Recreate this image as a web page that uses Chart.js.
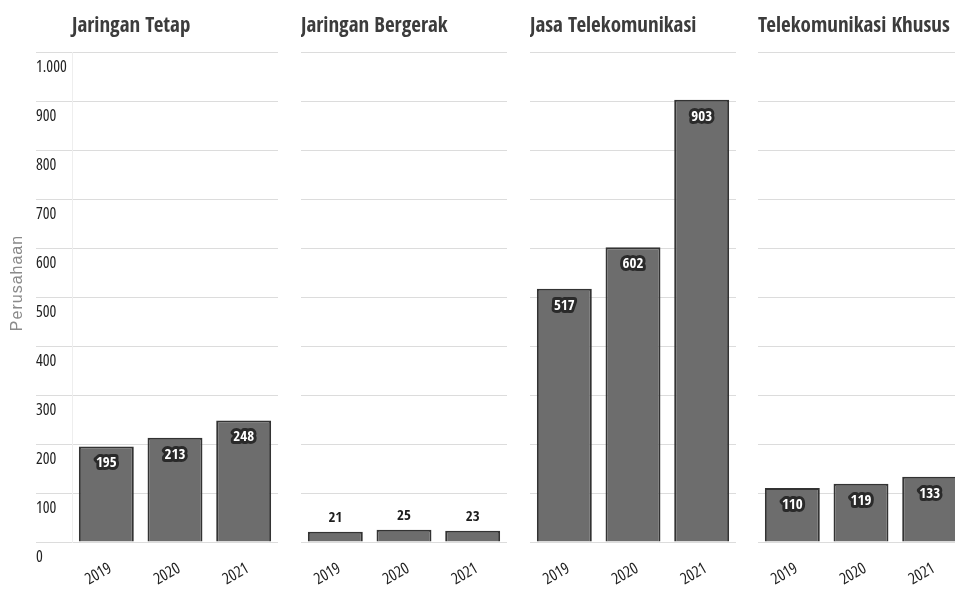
<!DOCTYPE html>
<html>
<head>
<meta charset="utf-8">
<script src="https://cdn.jsdelivr.net/npm/chart.js@4"></script>
<style>
    html, body { margin: 0; padding: 0; background: #fff; overflow: hidden; }
    body { width: 955px; height: 589px; position: relative; }
    .panel { position: absolute; top: 0; height: 589px; }
</style>
</head>
<body>
<div class="panel" style="left:0;width:278px"><canvas id="c1"></canvas></div>
<div class="panel" style="left:301px;width:206px"><canvas id="c2"></canvas></div>
<div class="panel" style="left:530px;width:206px"><canvas id="c3"></canvas></div>
<div class="panel" style="left:758px;width:206px"><canvas id="c4"></canvas></div>
<script>
// ---- data ----
const years = ["2019", "2020", "2021"];
const panelTitles = ["Jaringan Tetap", "Jaringan Bergerak", "Jasa Telekomunikasi", "Telekomunikasi Khusus"];
const jaringanTetap = [195, 213, 248];
const jaringanBergerak = [21, 25, 23];
const jasaTelekomunikasi = [517, 602, 903];
const telekomunikasiKhusus = [110, 119, 133];
const yTickLabels = ["0", "100", "200", "300", "400", "500", "600", "700", "800", "900", "1.000"];
const yTitle = "Perusahaan";

const FONT = "'Open Sans Condensed', 'Roboto Condensed', sans-serif";
// condensed face for tick labels (Open Sans width axis)
const TICK_FONT = { family: "'Open Sans', sans-serif", size: 16, weight: "500 condensed" };
const GRID = "#dcdcdc";

// value labels on the bars (white inside, dark above for short bars)
const barLabels = {
    id: "barLabels",
    afterDatasetsDraw(chart) {
        const ctx = chart.ctx;
        const meta = chart.getDatasetMeta(0);
        const data = chart.data.datasets[0].data;
        ctx.save();
        ctx.font = "bold 15px " + FONT;
        ctx.textAlign = "center";
        ctx.textBaseline = "middle";
        ctx.lineJoin = "round";
        meta.data.forEach((bar, i) => {
            const h = bar.base - bar.y;
            const txt = String(data[i]);
            if (h < 40) {
                ctx.fillStyle = "#1e1e1e";
                ctx.fillText(txt, bar.x, bar.y - 14);
            } else {
                const y = bar.y + 17;
                ctx.lineWidth = 6;
                ctx.strokeStyle = "#2a2a2a";
                ctx.strokeText(txt, bar.x, y);
                ctx.fillStyle = "#ffffff";
                ctx.fillText(txt, bar.x, y);
            }
        });
        ctx.restore();
    }
};

// rotated y-axis title on the first panel
const yTitlePlugin = {
    id: "yTitlePlugin",
    afterDraw(chart) {
        if (!chart.options.plugins.yTitlePlugin.show) return;
        const ctx = chart.ctx;
        ctx.save();
        ctx.translate(18, 283);
        ctx.rotate(-Math.PI / 2);
        ctx.font = "16px 'Liberation Sans', Arial, sans-serif";
        ctx.letterSpacing = "1px";
        ctx.fillStyle = "#8a8a8a";
        ctx.textAlign = "center";
        ctx.textBaseline = "middle";
        ctx.fillText(yTitle, 0, 0);
        ctx.restore();
    }
};

function makePanel(id, title, values, withAxis) {
    new Chart(document.getElementById(id), {
        type: "bar",
        data: {
            labels: years,
            datasets: [{
                data: values,
                backgroundColor: "#6d6d6d",
                borderColor: "#333333",
                borderWidth: 2,
                borderSkipped: "bottom",
                barPercentage: 0.8,
                categoryPercentage: 1
            }]
        },
        options: {
            responsive: true,
            maintainAspectRatio: false,
            animation: false,
            layout: { padding: { left: withAxis ? 36 : 0, right: 0, top: 0, bottom: 0 } },
            plugins: {
                legend: { display: false },
                tooltip: { enabled: false },
                yTitlePlugin: { show: withAxis },
                title: {
                    display: true,
                    text: title,
                    align: "start",
                    fullSize: false,
                    color: "#3c3c3c",
                    font: { family: FONT, size: 21, weight: "bold" },
                    padding: { top: 14, bottom: 13 }
                }
            },
            scales: {
                x: {
                    grid: { display: false, drawTicks: false },
                    border: { display: false },
                    afterFit: s => {
                        s.height = 47;
                        s.paddingLeft = 0;
                        s.paddingRight = 0;
                    },
                    ticks: {
                        minRotation: 30,
                        maxRotation: 30,
                        padding: 17,
                        labelOffset: 4,
                        color: "#222",
                        font: TICK_FONT
                    }
                },
                y: {
                    min: 0,
                    max: 1000,
                    afterFit: s => { s.width = withAxis ? 36 : 0; },
                    border: { display: withAxis, color: "#eeeeee" },
                    grid: {
                        color: GRID,
                        lineWidth: 1,
                        drawTicks: withAxis,
                        tickLength: 36,
                        tickColor: GRID
                    },
                    ticks: {
                        display: withAxis,
                        stepSize: 100,
                        crossAlign: "far",
                        labelOffset: 15,
                        padding: 0,
                        color: "#222",
                        font: TICK_FONT,
                        callback: (v, i) => yTickLabels[i]
                    }
                }
            }
        },
        plugins: [barLabels, yTitlePlugin]
    });
}

makePanel("c1", panelTitles[0], jaringanTetap, true);
makePanel("c2", panelTitles[1], jaringanBergerak, false);
makePanel("c3", panelTitles[2], jasaTelekomunikasi, false);
makePanel("c4", panelTitles[3], telekomunikasiKhusus, false);
</script>
</body>
</html>
